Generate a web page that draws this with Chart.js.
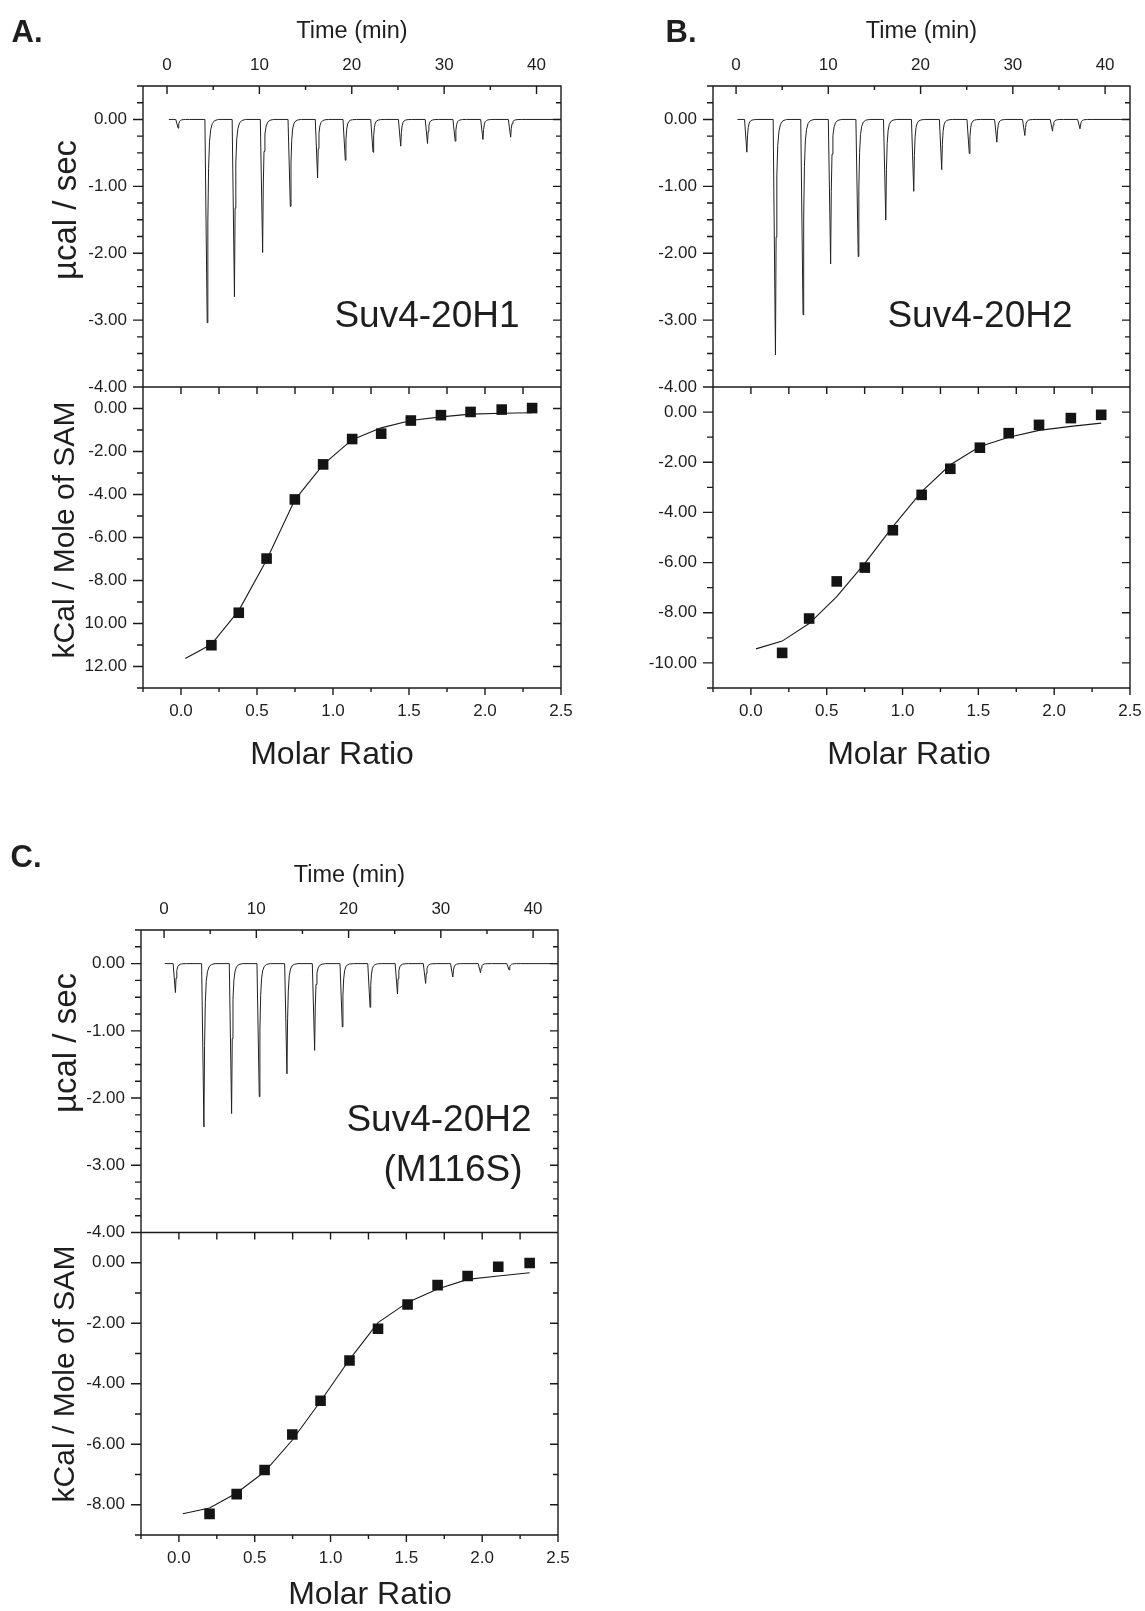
<!DOCTYPE html>
<html>
<head>
<meta charset="utf-8">
<script src="https://cdn.jsdelivr.net/npm/chart.js@4.4.1/dist/chart.umd.min.js"></script>
<style>
  body { margin: 0; background: #fff; }
  #page { position: relative; width: 1145px; height: 1611px; overflow: hidden;
          font-family: 'Liberation Sans', Arial, sans-serif; color: #1e1e1e; }
  .box { position: absolute; }
  .txt { position: absolute; white-space: nowrap; line-height: 1; transform: translate(-50%, -50%); }
  .rot { transform: translate(-50%, -50%) rotate(-90deg); }
</style>
</head>
<body>
<div id="page">
  <div class="box" style="left:0;top:0;width:580px;height:790px"><canvas id="chartA"></canvas></div>
  <div class="box" style="left:575px;top:0;width:570px;height:790px"><canvas id="chartB"></canvas></div>
  <div class="box" style="left:0;top:844px;width:580px;height:767px"><canvas id="chartC"></canvas></div>

  <div class="txt" style="left:27px;top:31px;font-size:31px;font-weight:bold">A.</div>
  <div class="txt" style="left:681px;top:31px;font-size:31px;font-weight:bold">B.</div>
  <div class="txt" style="left:26px;top:856px;font-size:31px;font-weight:bold">C.</div>

  <div class="txt rot" style="left:64px;top:210px;font-size:33px">µcal / sec</div>
  <div class="txt rot" style="left:64px;top:530px;font-size:30px">kCal / Mole of SAM</div>
  <div class="txt rot" style="left:64px;top:1043px;font-size:33px">µcal / sec</div>
  <div class="txt rot" style="left:64px;top:1374px;font-size:30px">kCal / Mole of SAM</div>

  <div class="txt" style="left:332px;top:753px;font-size:32px">Molar Ratio</div>
  <div class="txt" style="left:909px;top:753px;font-size:32px">Molar Ratio</div>
  <div class="txt" style="left:370px;top:1593px;font-size:32px">Molar Ratio</div>

  <div class="txt" style="left:427px;top:314px;font-size:37px">Suv4-20H1</div>
  <div class="txt" style="left:980px;top:314px;font-size:37px">Suv4-20H2</div>
  <div class="txt" style="left:439px;top:1118px;font-size:37px">Suv4-20H2</div>
  <div class="txt" style="left:453px;top:1168px;font-size:37px">(M116S)</div>
</div>

<script>
// raw thermograms: injection times (min) and the minimum of each peak (ucal/sec)
var injTimeA = [1.2, 4.35, 7.3, 10.35, 13.35, 16.3, 19.3, 22.3, 25.3, 28.2, 31.2, 34.2, 37.2];
var peakA = [-0.13, -3.04, -2.65, -1.99, -1.30, -0.875, -0.61, -0.49, -0.40, -0.36, -0.325, -0.30, -0.265];
var injTimeB = [1.17, 4.27, 7.26, 10.25, 13.24, 16.23, 19.26, 22.29, 25.28, 28.27, 31.3, 34.3, 37.28];
var peakB = [-0.49, -3.52, -2.92, -2.16, -2.05, -1.505, -1.075, -0.75, -0.51, -0.34, -0.24, -0.175, -0.14];
var injTimeC = [1.23, 4.32, 7.32, 10.32, 13.32, 16.32, 19.32, 22.33, 25.3, 28.35, 31.3, 34.3, 37.4];
var peakC = [-0.43, -2.43, -2.23, -1.98, -1.64, -1.29, -0.94, -0.65, -0.45, -0.295, -0.20, -0.135, -0.095];
// where each recorded trace starts and ends (min)
var traceSpanA = [0.2, 42.6];
var traceSpanB = [0.15, 42.7];
var traceSpanC = [0.08, 42.7];

// shape of one injection peak as read off the big peaks:
// minutes from the injection, fraction of the peak minimum
var shapeDt = [-0.25, 0, 0.07, 0.15, 0.25, 0.38, 0.55, 0.8, 1.2];
var shapeFrac = [0, 1, 0.5, 0.24, 0.11, 0.05, 0.02, 0.006, 0];

// integrated heats (kcal/mol of injectant) against molar ratio
var ratioA = [0.20, 0.38, 0.563, 0.749, 0.935, 1.126, 1.317, 1.512, 1.71, 1.905, 2.11, 2.31];
var heatA = [-11.01, -9.50, -6.98, -4.23, -2.60, -1.42, -1.17, -0.56, -0.31, -0.16, -0.05, 0.02];
var fitXA = [0.028, 0.20, 0.38, 0.563, 0.749, 0.935, 1.126, 1.317, 1.512, 1.71, 1.905, 2.11, 2.31];
var fitYA = [-11.63, -10.97, -9.40, -7.05, -4.25, -2.61, -1.45, -0.90, -0.56, -0.39, -0.26, -0.22, -0.20];

var ratioB = [0.206, 0.384, 0.566, 0.751, 0.936, 1.126, 1.315, 1.51, 1.70, 1.90, 2.11, 2.31];
var heatB = [-9.60, -8.23, -6.75, -6.20, -4.71, -3.30, -2.26, -1.42, -0.84, -0.51, -0.24, -0.11];
var fitXB = [0.033, 0.206, 0.384, 0.566, 0.751, 0.936, 1.126, 1.315, 1.51, 1.70, 1.90, 2.11, 2.31];
var fitYB = [-9.44, -9.13, -8.43, -7.36, -6.03, -4.57, -3.17, -2.10, -1.37, -1.00, -0.73, -0.57, -0.44];

var ratioC = [0.202, 0.381, 0.565, 0.748, 0.934, 1.125, 1.313, 1.508, 1.706, 1.904, 2.106, 2.313];
var heatC = [-8.30, -7.65, -6.85, -5.68, -4.56, -3.23, -2.18, -1.38, -0.74, -0.44, -0.13, -0.01];
var fitXC = [0.026, 0.202, 0.381, 0.565, 0.748, 0.934, 1.125, 1.313, 1.508, 1.706, 1.904, 2.106, 2.313];
var fitYC = [-8.30, -8.11, -7.61, -6.91, -5.86, -4.58, -3.20, -1.98, -1.31, -0.87, -0.55, -0.44, -0.33];

// tick values and labels
var timeTicks = [0, 10, 20, 30, 40];
var ratioTicks = [0, 0.5, 1, 1.5, 2, 2.5];
var rawTicks = [-4, -3, -2, -1, 0];
var heatTicksA = [-12, -10, -8, -6, -4, -2, 0];
var heatLabelsA = ['12.00', '10.00', '-8.00', '-6.00', '-4.00', '-2.00', '0.00'];
var heatTicksB = [-10, -8, -6, -4, -2, 0];
var heatTicksC = [-8, -6, -4, -2, 0];

Chart.defaults.font.family = "'Liberation Sans', Arial, sans-serif";
Chart.defaults.color = '#1e1e1e';

var INK = '#1a1a1a';

function traceData(times, depths, span) {
    var pts = [{x: span[0], y: 0}];
    times.forEach(function (t, i) {
        shapeDt.forEach(function (dt, k) {
            pts.push({x: t + dt, y: depths[i] * shapeFrac[k]});
        });
    });
    pts.push({x: span[1], y: 0});
    return pts;
}

function xy(xs, ys) {
    return xs.map(function (x, i) { return {x: x, y: ys[i]}; });
}

// walk minor steps over a scale, flagging the major ones
function eachTick(scale, minor, major, draw) {
    var k0 = Math.ceil(scale.min / minor - 1e-9);
    for (var k = k0; k * minor <= scale.max + 1e-9; k++) {
        var v = k * minor;
        var big = Math.abs(v / major - Math.round(v / major)) < 1e-6;
        draw(scale.getPixelForValue(v), big);
    }
}

// Origin style frame: box, divider between the two plots, in/out tick marks
var frameTicks = {
    id: 'frameTicks',
    afterDatasetsDraw: function (chart) {
        var ctx = chart.ctx;
        var a = chart.chartArea;
        var s = chart.scales;
        var mid = s.yRaw.bottom;
        function seg(x1, y1, x2, y2) { ctx.moveTo(x1, y1); ctx.lineTo(x2, y2); }

        ctx.save();
        ctx.strokeStyle = INK;
        ctx.lineWidth = 1.4;
        ctx.beginPath();
        ctx.rect(a.left, a.top, a.right - a.left, a.bottom - a.top);
        seg(a.left, mid, a.right, mid);

        eachTick(s.xTime, 5, 10, function (p, big) {
            seg(p, a.top, p, a.top + (big ? 8 : 4));
        });
        eachTick(s.xRatio, 0.25, 0.5, function (p, big) {
            seg(p, a.bottom, p, a.bottom + (big ? 7 : 4));
            seg(p, mid, p, mid + 7);
        });
        eachTick(s.yRaw, 0.25, 1, function (p, big) {
            seg(a.left - (big ? 10 : 6), p, a.left, p);
            seg(a.right - (big ? 8 : 5), p, a.right, p);
        });
        eachTick(s.yHeat, 1, 2, function (p, big) {
            seg(a.left - (big ? 10 : 6), p, a.left, p);
            seg(a.right - (big ? 8 : 5), p, a.right, p);
        });
        ctx.stroke();
        ctx.restore();
    }
};

function setTicks(values) {
    return function (scale) {
        scale.ticks = values.map(function (v) { return {value: v}; });
    };
}

function makePanel(id, p) {
    var ctx = document.getElementById(id).getContext('2d');
    var hiddenGrid = {display: true, drawOnChartArea: false, color: 'rgba(0,0,0,0)'};

    return new Chart(ctx, {
        type: 'scatter',
        data: {
            datasets: [
                {
                    data: xy(p.ratio, p.heat),
                    xAxisID: 'xRatio', yAxisID: 'yHeat',
                    pointStyle: 'rect', pointRadius: 7.5,
                    backgroundColor: '#141414', borderWidth: 0,
                },
                {
                    data: xy(p.fitX, p.fitY),
                    xAxisID: 'xRatio', yAxisID: 'yHeat',
                    showLine: true, pointRadius: 0,
                    borderColor: INK, borderWidth: 1.1, tension: 0,
                },
                {
                    data: traceData(p.times, p.peaks, p.span),
                    xAxisID: 'xTime', yAxisID: 'yRaw',
                    showLine: true, pointRadius: 0,
                    borderColor: '#222', borderWidth: 1, tension: 0,
                },
            ],
        },
        options: {
            responsive: true,
            maintainAspectRatio: false,
            animation: false,
            events: [],
            layout: {padding: {left: 0, top: 0, right: p.padRight, bottom: 0}},
            plugins: {legend: {display: false}, tooltip: {enabled: false}},
            scales: {
                xTime: {
                    type: 'linear', position: 'top',
                    min: p.timeMin, max: p.timeMax,
                    grid: Object.assign({tickLength: 10}, hiddenGrid),
                    border: {display: false},
                    afterBuildTicks: setTicks(timeTicks),
                    ticks: {padding: 0, autoSkip: false, maxRotation: 0, font: {size: 17},
                        callback: function (v) { return String(v); }},
                    title: {display: true, text: 'Time (min)', font: {size: 23.5},
                        padding: {top: 17, bottom: 0}},
                    afterFit: function (scale) { scale.height = 86; },
                },
                xRatio: {
                    type: 'linear', position: 'bottom',
                    min: -0.25, max: 2.5,
                    grid: Object.assign({tickLength: 13}, hiddenGrid),
                    border: {display: false},
                    afterBuildTicks: setTicks(ratioTicks),
                    ticks: {padding: 0, autoSkip: false, maxRotation: 0, font: {size: 17},
                        callback: function (v) { return v.toFixed(1); }},
                    afterFit: function (scale) { scale.height = p.bottomHeight; },
                },
                yHeat: {
                    type: 'linear', position: 'left', stack: 'panel', stackWeight: 1,
                    min: p.heatMin, max: 1,
                    grid: Object.assign({tickLength: 16}, hiddenGrid),
                    border: {display: false},
                    afterBuildTicks: setTicks(p.heatTicks),
                    ticks: {padding: 0, autoSkip: false, font: {size: 17},
                        callback: function (v, i) {
                            return p.heatLabels ? p.heatLabels[i] : v.toFixed(2);
                        }},
                    afterFit: function (scale) { scale.width = p.leftWidth; },
                },
                yRaw: {
                    type: 'linear', position: 'left', stack: 'panel', stackWeight: 1,
                    min: -4, max: 0.5,
                    grid: Object.assign({tickLength: 16}, hiddenGrid),
                    border: {display: false},
                    afterBuildTicks: setTicks(rawTicks),
                    ticks: {padding: 0, autoSkip: false, font: {size: 17},
                        callback: function (v) { return v.toFixed(2); }},
                    afterFit: function (scale) { scale.width = p.leftWidth; },
                },
            },
        },
        plugins: [frameTicks],
    });
}

makePanel('chartA', {
    times: injTimeA, peaks: peakA, span: traceSpanA,
    ratio: ratioA, heat: heatA, fitX: fitXA, fitY: fitYA,
    heatTicks: heatTicksA, heatLabels: heatLabelsA, heatMin: -13,
    timeMin: -2.6, timeMax: 42.65,
    leftWidth: 143, padRight: 19, bottomHeight: 102,
});

makePanel('chartB', {
    times: injTimeB, peaks: peakB, span: traceSpanB,
    ratio: ratioB, heat: heatB, fitX: fitXB, fitY: fitYB,
    heatTicks: heatTicksB, heatLabels: null, heatMin: -11,
    timeMin: -2.5, timeMax: 42.7,
    leftWidth: 138, padRight: 15, bottomHeight: 102,
});

makePanel('chartC', {
    times: injTimeC, peaks: peakC, span: traceSpanC,
    ratio: ratioC, heat: heatC, fitX: fitXC, fitY: fitYC,
    heatTicks: heatTicksC, heatLabels: null, heatMin: -9,
    timeMin: -2.5, timeMax: 42.7,
    leftWidth: 141, padRight: 22, bottomHeight: 76,
});
</script>
</body>
</html>
